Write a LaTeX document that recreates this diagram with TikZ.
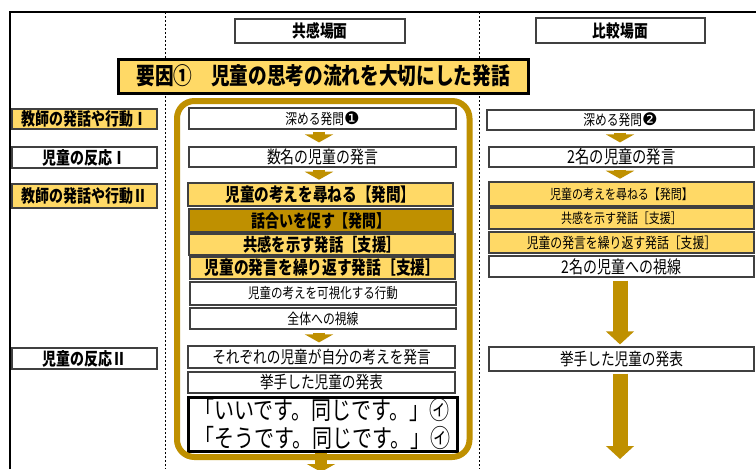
\documentclass[tikz,border=0pt]{standalone}
\usepackage{fontspec}
\usetikzlibrary{arrows.meta}
\newfontfamily\jp[FakeStretch=0.8]{Noto Sans CJK JP}
\newfontfamily\dv{DejaVu Sans}
\definecolor{ylw}{HTML}{FFD966}
\definecolor{gld}{HTML}{BF9000}
\newcommand\fs[1]{\fontsize{#1}{#1}\selectfont}
% name, x1, y1, x2, y2, style, text
\newcommand\bx[7]{\node[#6, minimum width={(#4-#2)*0.75pt}, minimum height={(#5-#3)*0.75pt}] (#1) at ({(#2+#4)/2},{(#3+#5)/2}) {#7};}
\tikzset{
  bxs/.style={draw=black!75, line width=0.9pt, fill=white, inner sep=0pt, font=\jp},
  ybx/.style={bxs, fill=ylw},
  gbx/.style={bxs, fill=gld},
  garrow/.style={draw=gld, line width=9pt, -{Triangle[width=21pt,length=6pt]}},
  bigarrow/.style={draw=gld, line width=11.25pt, -{Triangle[width=20.5pt,length=9.75pt]}},
}
\begin{document}
\begin{tikzpicture}[x=0.75pt,y=-0.75pt]
\useasboundingbox (0,0) rectangle (756,469);
\fill[white] (0,0) rectangle (756,469);
% frame and column separators
\draw[line width=1.1pt] (10,469) -- (10,12) -- (756,12);
\draw[line width=0.75pt, dash pattern=on 1.5pt off 1.5pt] (165.5,12) -- (165.5,469);
\draw[line width=0.75pt, dash pattern=on 1.5pt off 1.5pt] (479,12) -- (479,469);
% headers
\bx{h1}{235}{19}{405}{43}{bxs, font=\jp\bfseries\fs{12.9}}{共感場面}
\bx{h2}{536}{18}{705}{43}{bxs, font=\jp\bfseries\fs{12.9}}{比較場面}
% title
\bx{title}{118}{59}{528}{93}{ybx, draw=black, line width=2.25pt, font=\jp\bfseries\fs{17.5}}{要因①　児童の思考の流れを大切にした発話}
% left labels
\bx{L1}{12}{109}{157}{129}{ybx, font=\jp\bfseries\fs{13.1}}{教師の発話や行動Ⅰ}
\bx{L2}{12}{147}{157}{168}{bxs, font=\jp\bfseries\fs{13.1}}{児童の反応Ⅰ}
\bx{L3}{12}{184}{157}{208}{ybx, font=\jp\bfseries\fs{13.1}}{教師の発話や行動Ⅱ}
\bx{L4}{12}{348}{157}{369}{bxs, font=\jp\bfseries\fs{13.1}}{児童の反応Ⅱ}
\coordinate (mend) at (321,472);
% middle column
\bx{m1}{189}{108}{456}{129}{bxs, font=\jp\fs{11}}{深める発問{\dv\fs{13}❶}}
\bx{m2}{189}{147}{456}{167}{bxs, font=\jp\fs{13}}{数名の児童の発言}
\bx{m3}{188}{183}{453}{206}{ybx, font=\jp\bfseries\fs{13.7}}{児童の考えを尋ねる【発問】}
\bx{m4}{189}{209}{453}{232}{gbx, font=\jp\bfseries\fs{13.1}}{話合いを促す【発問】}
\bx{m5}{189}{234}{455}{255}{ybx, font=\jp\bfseries\fs{13.4}}{共感を示す発話［支援］}
\bx{m6}{190}{257}{455}{279}{ybx, font=\jp\bfseries\fs{13.8}}{児童の発言を繰り返す発話［支援］}
\bx{m7}{190}{282}{456}{305}{bxs, font=\jp\fs{10.8}}{児童の考えを可視化する行動}
\bx{m8}{190}{308}{456}{329}{bxs, font=\jp\fs{11.1}}{全体への視線}
\bx{m9}{188}{346}{455}{368}{bxs, font=\jp\fs{12.8}}{それぞれの児童が自分の考えを発言}
\bx{m10}{188}{372}{455}{393}{bxs, font=\jp\fs{12.8}}{挙手した児童の発表}
\node[draw=black, line width=2.25pt, fill=white, inner sep=0pt, minimum width={(457-188)*0.75pt}, minimum height={(451-397)*0.75pt}, align=left, font=\jp\fontsize{18.75}{20.5}\selectfont] (m11) at (322.5,424) {「いいです。同じです。」㋑\\「そうです。同じです。」㋑};
\draw[garrow] (m11.south -| mend) -- (mend);
% gold frame
\draw[gld, line width=4.5pt, rounded corners=13pt] (177,101) rectangle (469.5,457);
\draw[garrow, shorten <=1.5pt, shorten >=3pt] (m1.south -| 319,0) -- (m2.north -| 319,0);
\draw[garrow, shorten <=1.5pt, shorten >=2pt] (m2.south -| 319,0) -- (m3.north -| 319,0);
\draw[garrow, shorten <=2.25pt, shorten >=2.25pt] (m8.south -| 319,0) -- (m9.north -| 319,0);
% right column
\bx{r1}{487}{110}{754}{130}{bxs, font=\jp\fs{11}}{深める発問{\dv\fs{13}❷}}
\bx{r2}{489}{147}{754}{167}{bxs, font=\jp\fs{13.4}}{2名の児童の発言}
\bx{r3}{489}{182}{754}{206}{ybx, font=\jp\fs{10.3}}{児童の考えを尋ねる【発問】}
\bx{r4}{489}{208}{754}{229}{ybx, font=\jp\fs{10.3}}{共感を示す発話［支援］}
\bx{r5}{489}{232}{754}{253}{ybx, font=\jp\fs{11.1}}{児童の発言を繰り返す発話［支援］}
\bx{r6}{489}{256}{754}{277}{bxs, font=\jp\fs{13.1}}{2名の児童への視線}
\bx{r7}{489}{347}{754}{371}{bxs, font=\jp\fs{12.8}}{挙手した児童の発表}
\coordinate (rend) at (620,459);
\draw[garrow, shorten <=1.5pt, shorten >=3pt] (r1.south -| 620,0) -- (r2.north -| 620,0);
\draw[garrow, shorten <=1.5pt, shorten >=2pt] (r2.south -| 620,0) -- (r3.north -| 620,0);
\draw[bigarrow, shorten <=2.25pt, shorten >=1.5pt] (r6.south -| 620,0) -- (r7.north -| 620,0);
\draw[bigarrow, shorten <=1.5pt] (r7.south -| rend) -- (rend);
\end{tikzpicture}
\end{document}
